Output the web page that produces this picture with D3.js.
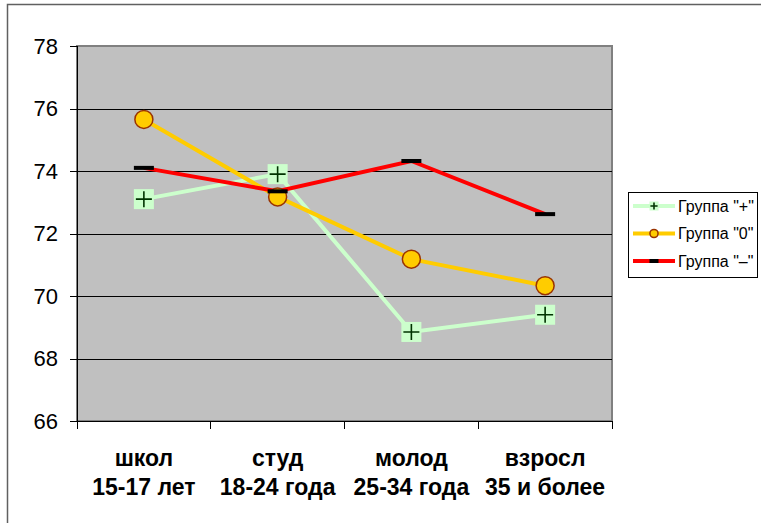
<!DOCTYPE html>
<html lang='ru'>
<head>
<meta charset='UTF-8'>
<title>Группы по возрасту</title>
<script src='https://cdn.jsdelivr.net/npm/d3@7'></script>
<style>
    body { margin: 0; background: #fff; font-family: 'Liberation Sans', Arial, sans-serif; }
    .grid line { stroke: #000; shape-rendering: crispEdges; }
    .grid path { stroke-width: 0; }
    .y-axis text { font-size: 22px; fill: #000; }
    .axis path, .axis line { stroke: #000; shape-rendering: crispEdges; }
    .cat text { font-size: 23px; font-weight: bold; fill: #000; }
    .legend text { font-size: 16px; fill: #000; }
</style>
</head>
<body>
<script>
    // Data
    const categories = ['школ', 'студ', 'молод', 'взросл'];
    const subLabels = ['15-17 лет', '18-24 года', '25-34 года', '35 и более'];
    const groupPlus = [73.1, 73.9, 68.85, 69.4];
    const groupZero = [75.65, 73.17, 71.18, 70.33];
    const groupMinus = [74.1, 73.35, 74.32, 72.62];
    const yTicks = [66, 68, 70, 72, 74, 76, 78];
    const seriesNames = ['Группа "+"', 'Группа "0"', 'Группа "–"'];

    const width = 761, height = 523;
    const plot = { left: 77, top: 46, right: 612, bottom: 421 };

    const svg = d3.select('body').append('svg')
        .attr('width', width)
        .attr('height', height);

    // outer chart frame
    svg.append('path')
        .attr('d', `M7.5,${height + 5} V4.5 H${width + 5}`)
        .attr('fill', 'none')
        .attr('stroke', '#606060')
        .attr('stroke-width', 1.5);

    const xScale = d3.scaleBand()
        .domain(categories)
        .range([plot.left, plot.right]);

    const yScale = d3.scaleLinear()
        .domain([66, 78])
        .range([plot.bottom, plot.top]);

    // plot area
    svg.append('rect')
        .attr('x', plot.left)
        .attr('y', plot.top)
        .attr('width', plot.right - plot.left)
        .attr('height', plot.bottom - plot.top)
        .attr('fill', '#c0c0c0')
        .attr('stroke', '#808080')
        .attr('stroke-width', 2);

    svg.append('g')
        .attr('class', 'grid')
        .attr('transform', `translate(${plot.left},0)`)
        .call(d3.axisLeft(yScale).tickValues(yTicks.slice(1, -1)).tickSize(-(plot.right - plot.left)).tickFormat(''));

    // y axis
    const yAxis = svg.append('g')
        .attr('class', 'axis y-axis')
        .attr('transform', `translate(${plot.left},0)`)
        .call(d3.axisLeft(yScale).tickValues(yTicks).tickSize(7).tickPadding(12));
    yAxis.select('.domain').attr('stroke', '#000');

    // x axis (ticks at band boundaries)
    const xAxis = svg.append('g')
        .attr('class', 'axis x-axis')
        .attr('transform', `translate(0,${plot.bottom})`);
    xAxis.append('line')
        .attr('x1', plot.left).attr('x2', plot.right);
    const bounds = categories.map(c => xScale(c)).concat([xScale(categories[3]) + xScale.bandwidth()]);
    xAxis.selectAll('.xt')
        .data(bounds)
        .enter().append('line')
        .attr('class', 'xt')
        .attr('x1', d => d).attr('x2', d => d)
        .attr('y1', 0).attr('y2', 8);

    const cat = svg.append('g').attr('class', 'cat');
    cat.selectAll('.c1')
        .data(categories)
        .enter().append('text')
        .attr('x', d => xScale(d) + xScale.bandwidth() / 2)
        .attr('y', 466)
        .attr('text-anchor', 'middle')
        .text(d => d);
    cat.selectAll('.c2')
        .data(subLabels)
        .enter().append('text')
        .attr('x', (d, i) => xScale(categories[i]) + xScale.bandwidth() / 2)
        .attr('y', 495)
        .attr('text-anchor', 'middle')
        .text(d => d);

    const cx = i => xScale(categories[i]) + xScale.bandwidth() / 2;
    const line = d3.line()
        .x((d, i) => cx(i))
        .y(d => yScale(d));

    const series = [
        { values: groupPlus, color: '#ccffcc', marker: 'plus' },
        { values: groupZero, color: '#ffcc00', marker: 'circle' },
        { values: groupMinus, color: '#ff0000', marker: 'dash' }
    ];

    function drawMarker(g, type, x, y, s) {
        if (type === 'plus') {
            g.append('rect')
                .attr('x', x - 10 * s).attr('y', y - 10 * s)
                .attr('width', 20 * s).attr('height', 20 * s)
                .attr('fill', '#ccffcc');
            g.append('path')
                .attr('d', `M${x - 8 * s},${y} H${x + 8 * s} M${x},${y - 8 * s} V${y + 8 * s}`)
                .attr('stroke', '#003300')
                .attr('stroke-width', 1.6);
        } else if (type === 'circle') {
            g.append('circle')
                .attr('cx', x).attr('cy', y).attr('r', 9 * s)
                .attr('fill', '#ffcc00')
                .attr('stroke', '#993300')
                .attr('stroke-width', 1.5);
        } else {
            g.append('rect')
                .attr('x', x - 10 * s).attr('y', y - 2)
                .attr('width', 20 * s).attr('height', 4)
                .attr('fill', '#000');
        }
    }

    series.forEach(s => {
        svg.append('path')
            .datum(s.values)
            .attr('d', line)
            .attr('fill', 'none')
            .attr('stroke', s.color)
            .attr('stroke-width', 4);
    });
    series.forEach(s => {
        const g = svg.append('g');
        s.values.forEach((v, i) => drawMarker(g, s.marker, cx(i), yScale(v), 1));
    });

    // legend
    const legend = svg.append('g').attr('class', 'legend');
    legend.append('rect')
        .attr('x', 628.5).attr('y', 192.5)
        .attr('width', 129).attr('height', 85)
        .attr('fill', '#fff')
        .attr('stroke', '#000');
    series.forEach((s, i) => {
        const y = 206 + i * 27.5;
        legend.append('line')
            .attr('x1', 633).attr('x2', 675)
            .attr('y1', y).attr('y2', y)
            .attr('stroke', s.color)
            .attr('stroke-width', 4);
        drawMarker(legend, s.marker, 654, y, 0.45);
        legend.append('text')
            .attr('x', 678)
            .attr('y', y + 5.5)
            .text(seriesNames[i]);
    });
</script>
</body>
</html>
